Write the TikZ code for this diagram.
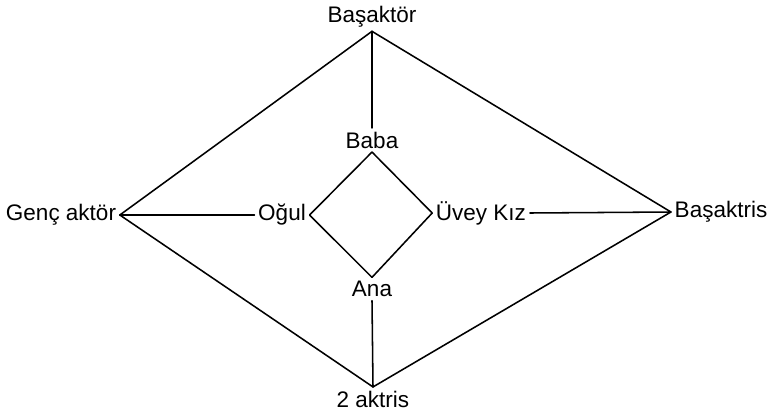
\documentclass[tikz,border=0pt]{standalone}
\usepackage{fontspec}
\setmainfont{Liberation Sans}
\usetikzlibrary{positioning}

\begin{document}
\begin{tikzpicture}[
      x=0.025cm, y=-0.025cm,
      role/.style={inner sep=2.5pt, font=\fontsize{16}{19}\selectfont},
      link/.style={line width=1.1pt, line cap=round}]
    \useasboundingbox (0,0) rectangle (771,415);
    % outer ring
    \node[role] (bactor) at (372,17) {Başaktör};
    \node[role] (genc) at (61,215) {Genç aktör};
    \node[role] (bactris) at (721,212) {Başaktris};
    \node[role] (aktris) at (373,399) {2 aktris};
    % inner family
    \node[role] (baba) at (372,140) {Baba};
    \node[role] (ogul) at (282,215) {Oğul};
    \node[role] (uvey) at (481,213) {Üvey Kız};
    \node[role] (ana) at (372,289) {Ana};
    \draw[link] (bactor.south) -- (genc.east);
    \draw[link] (bactor.south) -- (bactris.west);
    \draw[link] (bactor.south) -- (baba.north);
    \draw[link] (genc.east) -- (ogul.west);
    \draw[link] (genc.east) -- (aktris.north);
    \draw[link] (uvey.east) -- (bactris.west);
    \draw[link] (bactris.west) -- (aktris.north);
    \draw[link] (baba.south) -- (ogul.east);
    \draw[link] (baba.south) -- (uvey.west);
    \draw[link] (ogul.east) -- (ana.north);
    \draw[link] (uvey.west) -- (ana.north);
    \draw[link] (ana.south) -- (aktris.north);
  \end{tikzpicture}
\end{document}
